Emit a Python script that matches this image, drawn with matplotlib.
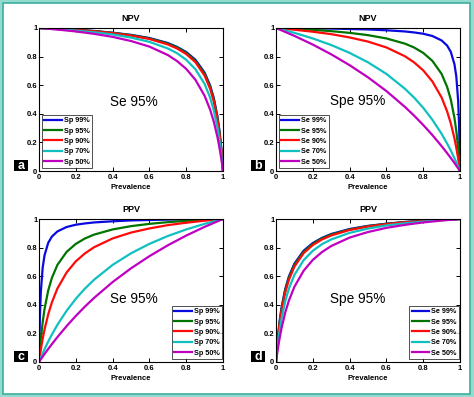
import matplotlib
matplotlib.use('Agg')
import matplotlib.pyplot as plt
from matplotlib.patches import Rectangle

plt.rcParams['font.family'] = ['Liberation Sans', 'DejaVu Sans']

# prevalence grids (dense where curves are steep)
prev_npv = [0, 0.1, 0.2, 0.3, 0.4, 0.5, 0.6, 0.7, 0.75, 0.8, 0.85, 0.9, 0.93, 0.95, 0.97, 0.98, 0.99, 0.995, 1.0]
prev_ppv = [0, 0.005, 0.01, 0.02, 0.03, 0.05, 0.07, 0.1, 0.15, 0.2, 0.25, 0.3, 0.4, 0.5, 0.6, 0.7, 0.8, 0.9, 1.0]

# panel a: NPV, Se 95%, Sp varies
npv_se95_sp99 = [1, 0.994, 0.988, 0.979, 0.967, 0.952, 0.930, 0.895, 0.868, 0.832, 0.778, 0.688, 0.598, 0.510, 0.380, 0.288, 0.167, 0.091, 0]
npv_se95_sp95 = [1, 0.994, 0.987, 0.978, 0.966, 0.950, 0.927, 0.891, 0.864, 0.826, 0.770, 0.679, 0.588, 0.500, 0.370, 0.279, 0.161, 0.087, 0]
npv_se95_sp90 = [1, 0.994, 0.986, 0.977, 0.964, 0.947, 0.923, 0.885, 0.857, 0.818, 0.761, 0.667, 0.575, 0.486, 0.358, 0.269, 0.154, 0.083, 0]
npv_se95_sp70 = [1, 0.992, 0.982, 0.970, 0.955, 0.933, 0.903, 0.857, 0.824, 0.778, 0.712, 0.609, 0.513, 0.424, 0.302, 0.222, 0.124, 0.066, 0]
npv_se95_sp50 = [1, 0.989, 0.976, 0.959, 0.938, 0.909, 0.870, 0.811, 0.769, 0.714, 0.638, 0.526, 0.429, 0.345, 0.236, 0.169, 0.092, 0.048, 0]

# panel b: NPV, Spe 95%, Se varies
npv_sp95_se99 = [1, 0.999, 0.997, 0.996, 0.993, 0.990, 0.984, 0.976, 0.969, 0.960, 0.944, 0.913, 0.877, 0.833, 0.746, 0.660, 0.490, 0.323, 0]
npv_sp95_se95 = [1, 0.994, 0.987, 0.978, 0.966, 0.950, 0.927, 0.891, 0.864, 0.826, 0.770, 0.679, 0.588, 0.500, 0.370, 0.279, 0.161, 0.087, 0]
npv_sp95_se90 = [1, 0.988, 0.974, 0.957, 0.934, 0.905, 0.864, 0.803, 0.760, 0.704, 0.626, 0.514, 0.417, 0.333, 0.227, 0.162, 0.088, 0.046, 0]
npv_sp95_se70 = [1, 0.966, 0.927, 0.881, 0.826, 0.760, 0.679, 0.576, 0.514, 0.442, 0.358, 0.260, 0.192, 0.143, 0.089, 0.061, 0.031, 0.016, 0]
npv_sp95_se50 = [1, 0.945, 0.884, 0.816, 0.740, 0.655, 0.559, 0.449, 0.388, 0.322, 0.251, 0.174, 0.125, 0.091, 0.056, 0.037, 0.019, 0.010, 0]

# panel c: PPV, Se 95%, Sp varies
ppv_se95_sp99 = [0, 0.323, 0.490, 0.660, 0.746, 0.833, 0.877, 0.913, 0.944, 0.960, 0.969, 0.976, 0.984, 0.990, 0.993, 0.996, 0.997, 0.999, 1]
ppv_se95_sp95 = [0, 0.087, 0.161, 0.279, 0.370, 0.500, 0.588, 0.679, 0.770, 0.826, 0.864, 0.891, 0.927, 0.950, 0.966, 0.978, 0.987, 0.994, 1]
ppv_se95_sp90 = [0, 0.046, 0.088, 0.162, 0.227, 0.333, 0.417, 0.514, 0.626, 0.704, 0.760, 0.803, 0.864, 0.905, 0.934, 0.957, 0.974, 0.988, 1]
ppv_se95_sp70 = [0, 0.016, 0.031, 0.061, 0.089, 0.143, 0.192, 0.260, 0.358, 0.442, 0.514, 0.576, 0.679, 0.760, 0.826, 0.881, 0.927, 0.966, 1]
ppv_se95_sp50 = [0, 0.010, 0.019, 0.037, 0.056, 0.091, 0.125, 0.174, 0.251, 0.322, 0.388, 0.449, 0.559, 0.655, 0.740, 0.816, 0.884, 0.945, 1]

# panel d: PPV, Spe 95%, Se varies
ppv_sp95_se99 = [0, 0.091, 0.167, 0.288, 0.380, 0.510, 0.598, 0.688, 0.778, 0.832, 0.868, 0.895, 0.930, 0.952, 0.967, 0.979, 0.988, 0.994, 1]
ppv_sp95_se95 = [0, 0.087, 0.161, 0.279, 0.370, 0.500, 0.588, 0.679, 0.770, 0.826, 0.864, 0.891, 0.927, 0.950, 0.966, 0.978, 0.987, 0.994, 1]
ppv_sp95_se90 = [0, 0.083, 0.154, 0.269, 0.358, 0.486, 0.575, 0.667, 0.761, 0.818, 0.857, 0.885, 0.923, 0.947, 0.964, 0.977, 0.986, 0.994, 1]
ppv_sp95_se70 = [0, 0.066, 0.124, 0.222, 0.302, 0.424, 0.513, 0.609, 0.712, 0.778, 0.824, 0.857, 0.903, 0.933, 0.955, 0.970, 0.982, 0.992, 1]
ppv_sp95_se50 = [0, 0.048, 0.092, 0.169, 0.236, 0.345, 0.429, 0.526, 0.638, 0.714, 0.769, 0.811, 0.870, 0.909, 0.938, 0.959, 0.976, 0.989, 1]

sp_labels = ['Sp 99%', 'Sp 95%', 'Sp 90%', 'Sp 70%', 'Sp 50%']
se_labels = ['Se 99%', 'Se 95%', 'Se 90%', 'Se 70%', 'Se 50%']
ticks = [0, 0.2, 0.4, 0.6, 0.8, 1]
tick_labels = ['0', '0.2', '0.4', '0.6', '0.8', '1']

colors = ['#0a0ae0', '#007400', '#ff0a0a', '#10c0c0', '#c000c0']

panels = [
    # letter, title, x, series, labels, note, legend loc, note pos
    ('a', 'NPV', prev_npv, [npv_se95_sp99, npv_se95_sp95, npv_se95_sp90, npv_se95_sp70, npv_se95_sp50],
     sp_labels, 'Se 95%', 'lower left', (0.515, 0.48)),
    ('b', 'NPV', prev_npv, [npv_sp95_se99, npv_sp95_se95, npv_sp95_se90, npv_sp95_se70, npv_sp95_se50],
     se_labels, 'Spe 95%', 'lower left', (0.443, 0.49)),
    ('c', 'PPV', prev_ppv, [ppv_se95_sp99, ppv_se95_sp95, ppv_se95_sp90, ppv_se95_sp70, ppv_se95_sp50],
     sp_labels, 'Se 95%', 'lower right', (0.515, 0.44)),
    ('d', 'PPV', prev_ppv, [ppv_sp95_se99, ppv_sp95_se95, ppv_sp95_se90, ppv_sp95_se70, ppv_sp95_se50],
     se_labels, 'Spe 95%', 'lower right', (0.442, 0.44)),
]

W, H = 474, 397
fig = plt.figure(figsize=(W / 100, H / 100), dpi=100, facecolor='#93dbcf')

# white panel inside the teal frame
fig.patches.append(Rectangle((3 / W, 3 / H), 467 / W, 391 / H, transform=fig.transFigure,
                             facecolor='white', edgecolor='#3fae9e', linewidth=1.2, zorder=-1))

# axes boxes in pixels: left, top
boxes = [(39, 28), (276, 28), (39, 219), (276, 219)]
aw, ah = 184, 143

for (letter, title, x, series, labels, note, loc, npos), (left, top) in zip(panels, boxes):
    ax = fig.add_axes([left / W, (H - top - ah) / H, aw / W, ah / H])
    for y, lab, c in zip(series, labels, colors):
        ax.plot(x, y, color=c, lw=1.6, label=lab)
    ax.set_xlim(0, 1)
    ax.set_ylim(0, 1)
    ax.set_xticks(ticks)
    ax.set_xticklabels(tick_labels)
    ax.set_yticks(ticks)
    ax.set_yticklabels(tick_labels)
    ax.tick_params(direction='in', length=3, width=0.7, top=True, right=True, labelsize=5.5)
    ax.tick_params(axis='x', pad=2)
    ax.tick_params(axis='y', pad=1.2)
    for t in ax.get_xticklabels() + ax.get_yticklabels():
        t.set_fontweight('bold')
    for s in ax.spines.values():
        s.set_linewidth(0.8)
    ax.set_title(title, fontsize=6.5, fontweight='bold', pad=5)
    ax.set_xlabel('Prevalence', fontsize=5.5, fontweight='bold', labelpad=2.5)
    ax.text(npos[0], npos[1], note, transform=ax.transAxes, ha='center', va='center', fontsize=9.8)

    anchor = (0.015, 0.02) if loc == 'lower left' else (0.995, 0.02)
    leg = ax.legend(loc=loc, bbox_to_anchor=anchor, borderaxespad=0,
                    prop={'weight': 'bold', 'size': 5.2}, frameon=True, fancybox=False,
                    edgecolor='black', labelspacing=0.45, handlelength=2.4,
                    handletextpad=0.3, borderpad=0.35)
    leg.get_frame().set_linewidth(0.6)

    # black panel-letter box
    bx, bw, bh = -25 / aw, 14 / aw, 11 / ah
    ax.add_patch(Rectangle((bx, 0), bw, bh, transform=ax.transAxes, facecolor='black',
                           edgecolor='none', clip_on=False))
    ax.text(bx + bw / 2, bh / 2, letter, transform=ax.transAxes, ha='center', va='center',
            color='white', fontsize=9, fontweight='bold')

fig.savefig('out.png', dpi=100, facecolor=fig.get_facecolor())
